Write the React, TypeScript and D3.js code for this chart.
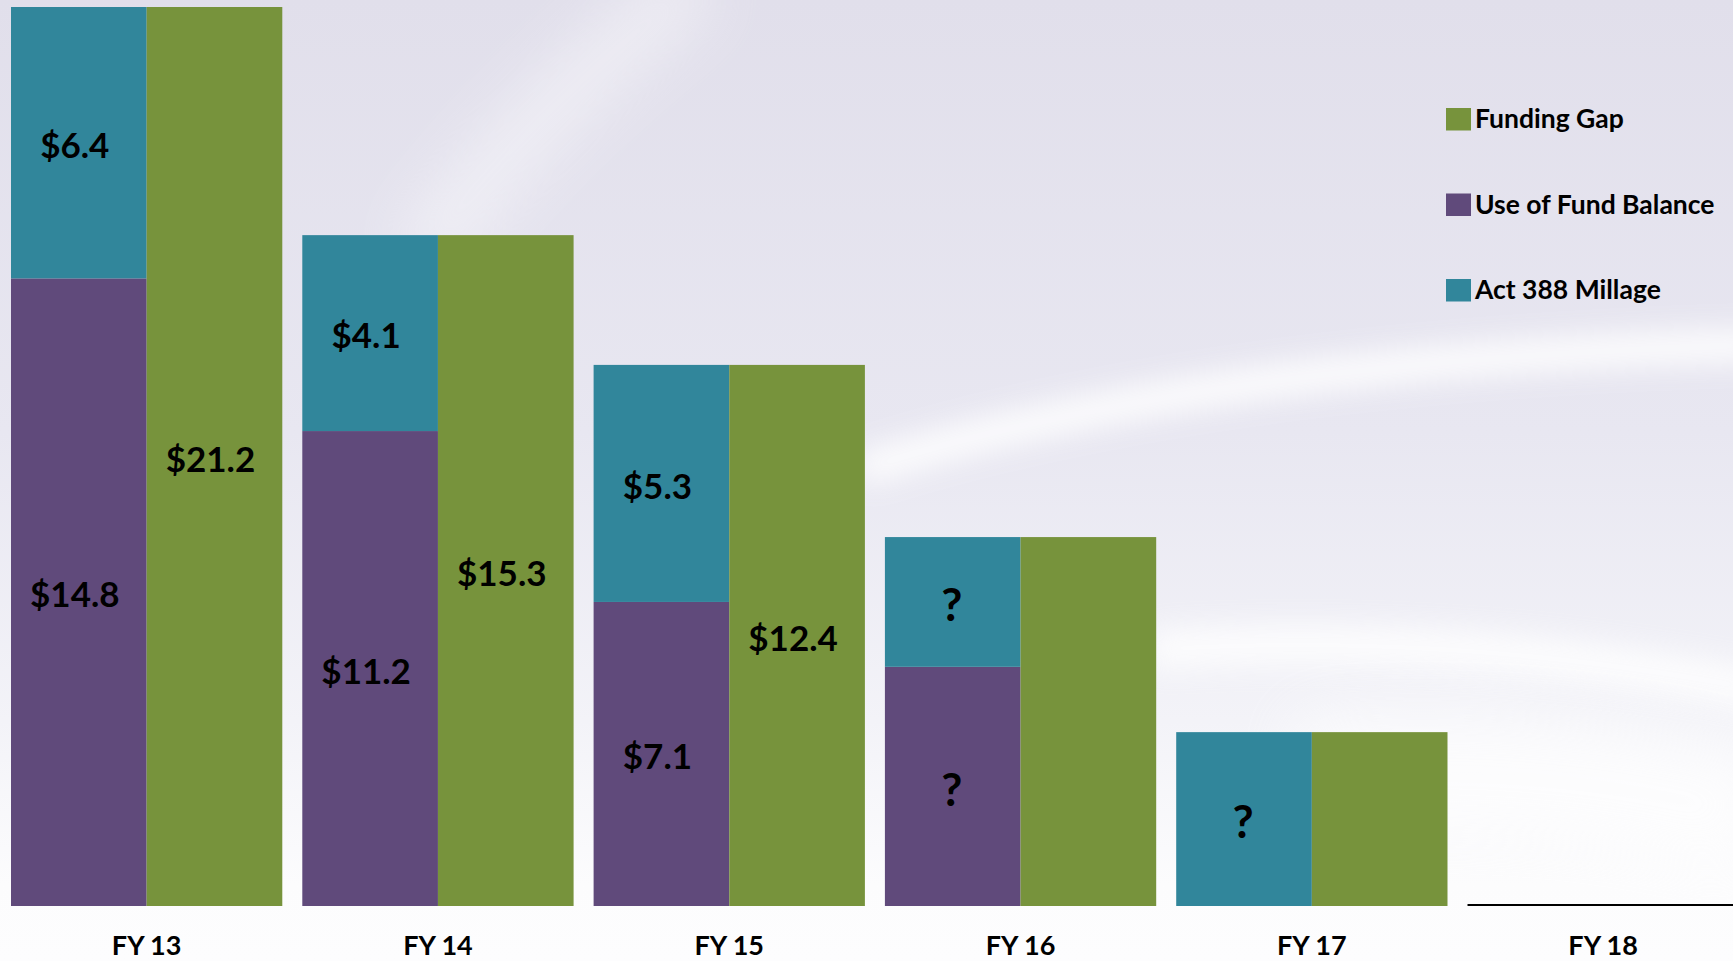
import React from "react";
import * as d3 from "d3";

const categories = ["FY 13", "FY 14", "FY 15", "FY 16", "FY 17", "FY 18"];
const useOfFundBalance = [14.8, 11.2, 7.17, 5.64, 0, 0];
const act388Millage = [6.4, 4.62, 5.59, 3.06, 4.1, 0];
const fundingGap = [21.2, 15.82, 12.76, 8.7, 4.1, 0];
// printed labels
const purpleLabels = ["$14.8", "$11.2", "$7.1", "?", "", ""];
const tealLabels = ["$6.4", "$4.1", "$5.3", "?", "?", ""];
const gapLabels = ["$21.2", "$15.3", "$12.4", "", "", ""];

const legendItems = [
  { name: "Funding Gap", color: "#77933C" },
  { name: "Use of Fund Balance", color: "#604A7B" },
  { name: "Act 388 Millage", color: "#31869B" },
];

const W = 1733;
const H = 961;
const COLORS = { purple: "#604A7B", teal: "#31869B", green: "#77933C" };
const FONT = "Lato, 'Open Sans', sans-serif";

export default function App() {
  const x = d3
    .scaleBand<string>()
    .domain(categories)
    .range([11, 1738.8])
    .paddingInner(0.0687)
    .paddingOuter(0);
  const inner = d3
    .scaleBand<string>()
    .domain(["stack", "gap"])
    .range([0, x.bandwidth()])
    .padding(0);
  const y = d3.scaleLinear().domain([0, 21.2]).range([906, 7]);

  const stackData = categories.map((c, i) => ({
    cat: c,
    purple: useOfFundBalance[i],
    teal: act388Millage[i],
  }));
  const stacked = d3.stack<any>().keys(["purple", "teal"])(stackData);

  return (
    <svg
      width={W}
      height={H}
      style={{ position: "absolute", left: 0, top: 0, display: "block" }}
    >
      <defs>
        <linearGradient id="bg" x1="0" y1="0" x2="0" y2="1">
          <stop offset="0%" stopColor="#E1DFEB" />
          <stop offset="45%" stopColor="#E8E7F1" />
          <stop offset="75%" stopColor="#F3F3F8" />
          <stop offset="92%" stopColor="#FCFCFD" />
          <stop offset="100%" stopColor="#FDFDFE" />
        </linearGradient>
        <filter id="blur" filterUnits="userSpaceOnUse" x={0} y={0} width={W} height={H}>
          <feGaussianBlur stdDeviation="14" />
        </filter>
        <filter id="blur2" filterUnits="userSpaceOnUse" x={0} y={0} width={W} height={H}>
          <feGaussianBlur stdDeviation="30" />
        </filter>
      </defs>
      <rect x={0} y={0} width={W} height={H} fill="url(#bg)" />
      {/* background swooshes */}
      <path
        d="M 420 260 Q 520 120 700 -20"
        stroke="#FFFFFF"
        strokeWidth={60}
        fill="none"
        opacity={0.45}
        filter="url(#blur2)"
      />
      <path
        d="M 860 470 Q 1200 360 1760 345"
        stroke="#FFFFFF"
        strokeWidth={34}
        fill="none"
        opacity={0.85}
        filter="url(#blur)"
      />
      <path
        d="M 1150 650 Q 1450 630 1760 690"
        stroke="#FFFFFF"
        strokeWidth={40}
        fill="none"
        opacity={0.8}
        filter="url(#blur)"
      />
      <path
        d="M 1300 780 Q 1550 760 1760 820"
        stroke="#FFFFFF"
        strokeWidth={120}
        fill="none"
        opacity={0.7}
        filter="url(#blur2)"
      />

      {/* stacked bars */}
      {stacked.map((layer) =>
        layer.map((d, i) => {
          const h = y(d[0]) - y(d[1]);
          if (h <= 0) return null;
          return (
            <rect
              key={layer.key + i}
              x={(x(categories[i]) as number) + (inner("stack") as number)}
              y={y(d[1])}
              width={inner.bandwidth()}
              height={h}
              fill={layer.key === "purple" ? COLORS.purple : COLORS.teal}
            />
          );
        })
      )}
      {/* funding gap bars */}
      {fundingGap.map((v, i) =>
        v > 0 ? (
          <rect
            key={"g" + i}
            x={(x(categories[i]) as number) + (inner("gap") as number)}
            y={y(v)}
            width={inner.bandwidth()}
            height={y(0) - y(v)}
            fill={COLORS.green}
          />
        ) : null
      )}

      {/* labels */}
      {stacked.map((layer) =>
        layer.map((d, i) => {
          const lab = layer.key === "purple" ? purpleLabels[i] : tealLabels[i];
          if (!lab) return null;
          const q = lab === "?";
          return (
            <text
              key={"l" + layer.key + i}
              x={(x(categories[i]) as number) + (inner("stack") as number) + inner.bandwidth() / 2 - (q ? 1 : 4)}
              y={(y(d[0]) + y(d[1])) / 2 + 3}
              dy="0.35em"
              textAnchor="middle"
              fontFamily={FONT}
              fontWeight={700}
              fontSize={q ? 46 : 35}
              fill="#000"
            >
              {lab}
            </text>
          );
        })
      )}
      {gapLabels.map((lab, i) =>
        lab ? (
          <text
            key={"gl" + i}
            x={(x(categories[i]) as number) + (inner("gap") as number) + inner.bandwidth() / 2 - 4}
            y={(y(0) + y(fundingGap[i])) / 2 + 3}
            dy="0.35em"
            textAnchor="middle"
            fontFamily={FONT}
            fontWeight={700}
            fontSize={35}
            fill="#000"
          >
            {lab}
          </text>
        ) : null
      )}

      {/* axis line under empty FY18 */}
      <line
        x1={x("FY 18") as number}
        x2={W}
        y1={y(0) - 1}
        y2={y(0) - 1}
        stroke="#000"
        strokeWidth={2}
      />

      {/* category labels */}
      {categories.map((c) => (
        <text
          key={c}
          x={(x(c) as number) + x.bandwidth() / 2}
          y={955}
          textAnchor="middle"
          fontFamily={FONT}
          fontWeight={700}
          fontSize={27}
          fill="#000"
        >
          {c}
        </text>
      ))}

      {/* legend */}
      {legendItems.map((it, i) => (
        <g key={it.name} transform={`translate(1446, ${108 + i * 85.5})`}>
          <rect x={0} y={0} width={25} height={22.5} fill={it.color} />
          <text
            x={29}
            y={20}
            fontFamily={FONT}
            fontWeight={700}
            fontSize={26.5}
            fill="#000"
          >
            {it.name}
          </text>
        </g>
      ))}
    </svg>
  );
}
